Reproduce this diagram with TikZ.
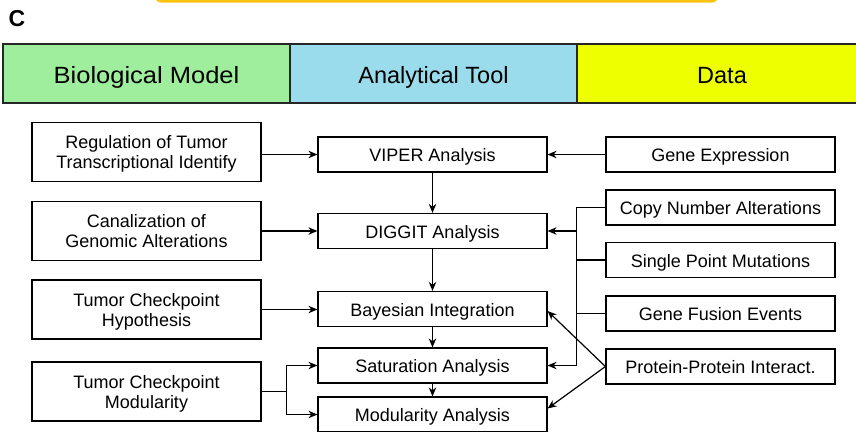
\documentclass[tikz,border=0pt]{standalone}
\usepackage{fontspec}
\setmainfont{Liberation Sans}
\usetikzlibrary{arrows.meta}
\definecolor{hgreen}{HTML}{9EEE9E}
\definecolor{hblue}{HTML}{9ADCEC}
\definecolor{hyellow}{HTML}{EEFF00}
\definecolor{orangeband}{HTML}{FFC20E}
\tikzset{
  box/.style={draw=black, line width=1.2pt, minimum width=229pt, inner sep=0pt, align=center,
    font=\fontsize{18}{20}\selectfont},
  tallbox/.style={box, minimum height=59pt, text depth=0pt},
  shortbox/.style={box, minimum height=35pt, text height=14.2pt, text depth=0pt},
  hdr/.style={draw=black!85, line width=1.3pt, minimum height=59pt, inner sep=0pt,
    font=\fontsize{23.5}{26}\selectfont, text height=19pt, text depth=0pt},
  conn/.style={line width=1.2pt},
  arr/.style={conn, -{Stealth[length=9pt,width=7.5pt]}},
}
\begin{document}
\begin{tikzpicture}[x=1pt,y=-1pt]
\useasboundingbox (0,0) rectangle (856,431);
% top orange band (cut off)
\fill[orangeband, rounded corners=6pt] (155,-30) rectangle (718,2.5);
% panel label
\node[anchor=center, font=\fontsize{23}{26}\selectfont\bfseries] (lbl) at (17,18.5) {C};
% header
\node[hdr, fill=hgreen, minimum width=287pt] (hbio) at (146.5,73.5) {\scalebox{1.085}[1]{Biological Model}};
\node[hdr, fill=hblue, minimum width=287pt] (htool) at (433.5,73.5) {Analytical Tool};
\node[hdr, fill=hyellow, minimum width=290pt] (hdata) at (722,73.5) {Data};
% left column
\node[tallbox] (b1) at (146.5,152) {Regulation of Tumor\\Transcriptional Identify};
\node[tallbox] (b2) at (146.5,231) {Canalization of\\Genomic Alterations};
\node[tallbox] (b3) at (146.5,309.5) {Tumor Checkpoint\\Hypothesis};
\node[tallbox] (b4) at (146.5,391.5) {Tumor Checkpoint\\Modularity};
% middle column
\node[shortbox] (m1) at (432.5,154.5) {VIPER Analysis};
\node[shortbox] (m2) at (432.5,231) {DIGGIT Analysis};
\node[shortbox] (m3) at (432.5,309) {Bayesian Integration};
\node[shortbox] (m4) at (432.5,365.5) {Saturation Analysis};
\node[shortbox] (m5) at (432.5,414.5) {Modularity Analysis};
% right column
\node[shortbox] (r1) at (720.5,154.5) {Gene Expression};
\node[shortbox] (r2) at (720.5,207.5) {Copy Number Alterations};
\node[shortbox] (r3) at (720.5,260) {Single Point Mutations};
\node[shortbox] (r4) at (720.5,313.5) {Gene Fusion Events};
\node[shortbox] (r5) at (720.5,366.5) {Protein-Protein Interact.};
% left to middle
\draw[arr] (b1.east |- m1.west) -- (m1.west);
\draw[arr] (b2.east) -- (m2.west);
\draw[arr] (b3.east) -- (b3.east -| m3.west);
\draw[conn] (b4.east) -- ++(25,0) coordinate (jl);
\draw[arr] (jl) |- (m4.west);
\draw[arr] (jl) |- (m5.west);
% middle chain
\draw[arr] (m1) -- (m2);
\draw[arr] (m2) -- (m3);
\draw[arr] (m3) -- (m4);
\draw[arr] (m4) -- (m5);
% right to middle
\draw[arr] (r1) -- (m1);
\draw[conn] (r2.west) -- ++(-29,0) coordinate (bt);
\draw[arr] (bt) |- (m4.east);
\draw[arr] (bt |- m2.east) -- (m2.east);
\draw[conn] (r3.west) -- (r3.west -| bt);
\draw[conn] (r4.west) -- (r4.west -| bt);
\draw[arr] (r5.west) -- ([yshift=-2pt]m3.east);
\draw[arr] (r5.west) -- ([yshift=6pt]m5.east);
\end{tikzpicture}
\end{document}
